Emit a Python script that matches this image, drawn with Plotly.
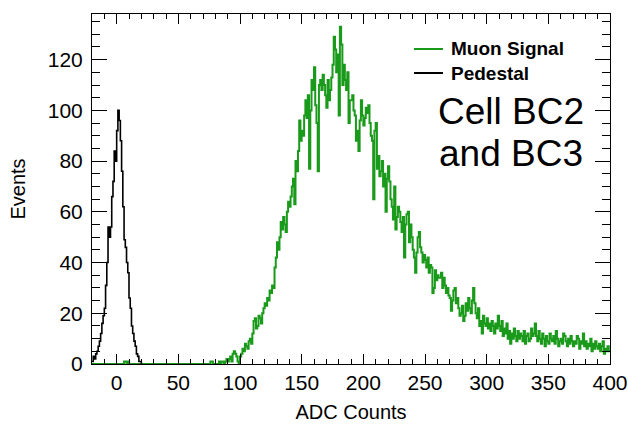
import numpy as np
import plotly.graph_objects as go

# ---------------- data ----------------
BIN_WIDTH = 1
SIGNAL_START = -20
PEDESTAL_START = -20

signal_counts = [
    0, 0, 0, 0, 0, 0, 0, 0, 0, 0,          # -20..-11
    0, 0, 0, 0, 0, 0, 0, 0, 0, 0,          # -10..-1
    0, 0, 0, 0, 0, 0, 1, 1, 0, 1,          # 0..9
    0, 0, 0, 0, 0, 0, 0, 0, 0, 0,          # 10..19
    0, 0, 0, 0, 0, 0, 0, 0, 0, 0,          # 20..29
    0, 0, 0, 0, 0, 0, 0, 0, 0, 0,          # 30..39
    0, 0, 0, 0, 0, 0, 0, 0, 0, 0,          # 40..49
    0, 0, 0, 0, 0, 0, 0, 0, 0, 0,          # 50..59
    0, 0, 0, 0, 0, 0, 0, 0, 0, 0,          # 60..69
    0, 0, 0, 0, 0, 0, 1, 1, 0, 0,          # 70..79
    0, 0, 0, 1, 0, 1, 1, 0, 1, 2,          # 80..89
    1, 2, 3, 1, 4, 5, 4, 3, 1, 0,          # 90..99
    3, 4, 6, 5, 8, 7, 6, 9, 10, 8,         # 100..109
    12, 17, 18, 14, 15, 19, 18, 16, 20, 22,  # 110..119
    24, 23, 26, 25, 29, 28, 31, 30, 38, 42,  # 120..129
    48, 45, 50, 56, 53, 58, 55, 52, 60, 64,  # 130..139
    62, 66, 70, 73, 63, 80, 76, 84, 96, 88,  # 140..149
    92, 90, 98, 104, 97, 106, 77, 100, 112, 108,  # 150..159
    117, 102, 95, 76, 110, 112, 108, 114, 110, 106,  # 160..169
    101, 112, 104, 108, 113, 118, 129, 124, 115, 122,  # 170..179
    98, 133, 126, 110, 118, 112, 108, 115, 95, 104,  # 180..189
    104, 106, 100, 98, 88, 92, 84, 96, 104, 98,  # 190..199
    94, 97, 101, 99, 102, 95, 90, 88, 65, 92,  # 200..209
    95, 77, 82, 74, 76, 80, 70, 75, 60, 73,  # 210..219
    78, 72, 65, 62, 57, 70, 53, 58, 62, 60,  # 220..229
    56, 52, 58, 42, 55, 59, 60, 48, 55, 50,  # 230..239
    45, 42, 36, 44, 50, 52, 46, 44, 40, 43,  # 240..249
    41, 38, 42, 36, 39, 38, 28, 30, 37, 33,  # 250..259
    35, 34, 34, 36, 30, 34, 31, 28, 30, 27,  # 260..269
    26, 21, 25, 29, 30, 24, 26, 22, 19, 20,  # 270..279
    23, 17, 19, 24, 21, 26, 22, 20, 25, 30,  # 280..289
    24, 20, 18, 22, 15, 17, 12, 19, 16, 15,  # 290..299
    18, 14, 16, 13, 17, 15, 12, 16, 14, 19,  # 300..309
    15, 13, 17, 11, 14, 12, 16, 10, 13, 8,   # 310..319
    12, 10, 14, 11, 9, 13, 10, 12, 11, 9,    # 320..329
    13, 8, 11, 12, 9, 10, 14, 11, 12, 16,    # 330..339
    11, 9, 13, 10, 8, 12, 10, 7, 11, 9,      # 340..349
    8, 12, 10, 9, 11, 8, 13, 10, 7, 9,       # 350..359
    10, 8, 12, 11, 9, 7, 10, 8, 11, 9,       # 360..369
    7, 9, 8, 11, 10, 6, 9, 8, 12, 7,         # 370..379
    9, 6, 8, 7, 10, 5, 8, 6, 9, 7,           # 380..389
    6, 8, 5, 7, 9, 4, 6, 5, 7, 5,            # 390..399
]

pedestal_counts = [
    1, 3, 2, 4, 5, 7, 9, 12, 16, 19,         # -20..-11
    22, 31, 40, 54, 50, 54, 66, 72, 84, 80,  # -10..-1
    92, 100, 96, 88, 76, 62, 49, 46, 40, 36,  # 0..9
    26, 22, 15, 12, 9, 7, 4, 3, 1, 1,        # 10..19
    0,                                        # 20
]

series_names = ["Muon Signal", "Pedestal"]
x_ticks = [0, 50, 100, 150, 200, 250, 300, 350, 400]
y_ticks = [0, 20, 40, 60, 80, 100, 120]
label_lines = ["Cell BC2", "and BC3"]

X_RANGE = [-20, 400]
Y_RANGE = [0, 138]

GREEN = "#1a9a1a"
FONT = "Liberation Sans, Arial, sans-serif"


def step_xy(start, counts):
    edges = start + BIN_WIDTH * np.arange(len(counts) + 1)
    ys = list(counts) + [counts[-1]]
    return edges, ys


sx, sy = step_xy(SIGNAL_START, signal_counts)
px_, py_ = step_xy(PEDESTAL_START, pedestal_counts)

fig = go.Figure()
fig.add_trace(go.Scatter(x=sx, y=sy, mode="lines", line_shape="hv",
                         line=dict(color=GREEN, width=2), name=series_names[0],
                         showlegend=False))
fig.add_trace(go.Scatter(x=px_, y=py_, mode="lines", line_shape="hv",
                         line=dict(color="black", width=1.6), name=series_names[1],
                         showlegend=False))

# layout geometry (pixels)
W, H = 628, 424
L, R, T, B = 92, 18, 14, 60
pw, ph = W - L - R, H - T - B


def xp(px):
    return (px - L) / pw


def yp(py):
    return (H - B - py) / ph


# legend drawn in paper space
fig.add_shape(type="line", xref="paper", yref="paper", x0=xp(414), x1=xp(443),
              y0=yp(49), y1=yp(49), line=dict(color=GREEN, width=2))
fig.add_shape(type="line", xref="paper", yref="paper", x0=xp(414), x1=xp(443),
              y0=yp(73), y1=yp(73), line=dict(color="black", width=2))
fig.add_annotation(xref="paper", yref="paper", x=xp(449), y=yp(49), xanchor="left",
                   yanchor="middle", showarrow=False, text="<b>" + series_names[0] + "</b>",
                   font=dict(family=FONT, size=19, color="black"))
fig.add_annotation(xref="paper", yref="paper", x=xp(449), y=yp(73), xanchor="left",
                   yanchor="middle", showarrow=False, text="<b>" + series_names[1] + "</b>",
                   font=dict(family=FONT, size=19, color="black"))
for i, line in enumerate(label_lines):
    fig.add_annotation(xref="paper", yref="paper", x=xp(511), y=yp(111 + 42 * i),
                       xanchor="center", yanchor="middle", showarrow=False, text=line,
                       font=dict(family=FONT, size=37, color="black"))

fig.update_layout(
    width=W, height=H,
    margin=dict(l=L, r=R, t=T, b=B, pad=0),
    paper_bgcolor="white", plot_bgcolor="white",
    font=dict(family=FONT, color="black"),
    showlegend=False,
)
fig.update_xaxes(
    range=X_RANGE, tickvals=x_ticks, ticks="inside", ticklen=10, tickcolor="black",
    showline=True, linecolor="black", linewidth=1, mirror="ticks",
    showgrid=False, zeroline=False,
    tickfont=dict(family=FONT, size=21),
    minor=dict(dtick=10, tick0=0, ticks="inside", ticklen=5, tickcolor="black", showgrid=False),
    title=dict(text="ADC Counts", font=dict(family=FONT, size=20), standoff=11),
    automargin=False,
)
fig.update_yaxes(
    range=Y_RANGE, tickvals=y_ticks, ticks="inside", ticklen=15, tickcolor="black",
    showline=True, linecolor="black", linewidth=1, mirror="ticks",
    showgrid=False, zeroline=False,
    tickfont=dict(family=FONT, size=21), ticklabelstandoff=4,
    minor=dict(dtick=5, tick0=0, ticks="inside", ticklen=8, tickcolor="black", showgrid=False),
    title=dict(text="Events", font=dict(family=FONT, size=20), standoff=16),
    automargin=False,
)

fig.write_html("out.html")
